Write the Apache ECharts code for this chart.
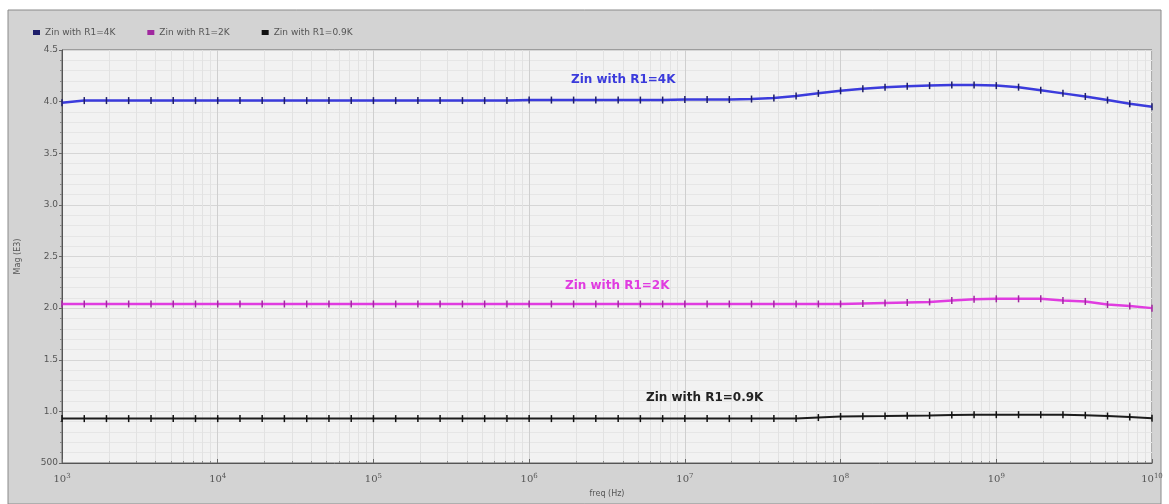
<!DOCTYPE html>
<html>
<head>
<meta charset="utf-8">
<title>Zin vs freq</title>
<script src="https://cdn.jsdelivr.net/npm/echarts@6/dist/echarts.min.js"></script>
<style>
  html, body { margin: 0; padding: 0; background: #ffffff; }
  #chart { width: 1169px; height: 504px; }
</style>
</head>
<body>
<div id="chart"></div>
<script>
  // sweep points (7 per decade, as in the simulator plot)
  var decades = [1e3, 1e4, 1e5, 1e6, 1e7, 1e8, 1e9];
  var mantissa = [1, 1.39, 1.93, 2.68, 3.73, 5.18, 7.2];
  var freq = [];
  decades.forEach(function (d) {
    mantissa.forEach(function (m) { freq.push(m * d); });
  });
  freq.push(1e10);

  var seriesNames = ['Zin with R1=4K', 'Zin with R1=2K', 'Zin with R1=0.9K'];

  // Mag (E3), one value per sweep point
  var zin4k = [
    3.99, 4.01, 4.01, 4.01, 4.01, 4.01, 4.01,
    4.01, 4.01, 4.01, 4.01, 4.01, 4.01, 4.01,
    4.01, 4.01, 4.01, 4.01, 4.01, 4.01, 4.01,
    4.015, 4.015, 4.015, 4.015, 4.015, 4.015, 4.015,
    4.02, 4.02, 4.02, 4.025, 4.035, 4.055, 4.08,
    4.105, 4.125, 4.14, 4.15, 4.155, 4.16, 4.16,
    4.155, 4.14, 4.11, 4.08, 4.05, 4.015, 3.98,
    3.95
  ];
  var zin2k = [
    2.04, 2.04, 2.04, 2.04, 2.04, 2.04, 2.04,
    2.04, 2.04, 2.04, 2.04, 2.04, 2.04, 2.04,
    2.04, 2.04, 2.04, 2.04, 2.04, 2.04, 2.04,
    2.04, 2.04, 2.04, 2.04, 2.04, 2.04, 2.04,
    2.04, 2.04, 2.04, 2.04, 2.04, 2.04, 2.04,
    2.04, 2.045, 2.05, 2.055, 2.06, 2.075, 2.085,
    2.09, 2.09, 2.09, 2.075, 2.065, 2.035, 2.02,
    2.0
  ];
  var zin09k = [
    0.93, 0.93, 0.93, 0.93, 0.93, 0.93, 0.93,
    0.93, 0.93, 0.93, 0.93, 0.93, 0.93, 0.93,
    0.93, 0.93, 0.93, 0.93, 0.93, 0.93, 0.93,
    0.93, 0.93, 0.93, 0.93, 0.93, 0.93, 0.93,
    0.93, 0.93, 0.93, 0.93, 0.93, 0.93, 0.94,
    0.95, 0.953, 0.955, 0.958, 0.96, 0.965, 0.968,
    0.968, 0.968, 0.968, 0.968, 0.962, 0.955, 0.945,
    0.933
  ];

  function pairs(vals) {
    return freq.map(function (f, i) { return [f, vals[i]]; });
  }

  var chart = echarts.init(document.getElementById('chart'));

  function makeSeries(name, vals, lineColor, markColor, width) {
    return {
      name: name,
      type: 'line',
      data: pairs(vals),
      showSymbol: true,
      symbol: 'rect',
      symbolSize: [1.5, 7],
      itemStyle: { color: markColor },
      lineStyle: { color: lineColor, width: width },
      animation: false
    };
  }

  chart.setOption({
    backgroundColor: '#ffffff',
    color: ['#3b3bdc', '#e03ce0', '#1c1c1c'],
    graphic: [
      {
        type: 'rect', z: -10,
        shape: { x: 8, y: 10, width: 1153, height: 494 },
        style: { fill: '#d3d3d3', stroke: '#8a8a8a', lineWidth: 1 }
      },
      {
        type: 'text', left: 571, top: 74, z: 10,
        style: { text: 'Zin with R1=4K', fill: '#3b3bdc', font: 'bold 12px "DejaVu Sans"' }
      },
      {
        type: 'text', left: 565, top: 280, z: 10,
        style: { text: 'Zin with R1=2K', fill: '#e03ce0', font: 'bold 12px "DejaVu Sans"' }
      },
      {
        type: 'text', left: 646, top: 392, z: 10,
        style: { text: 'Zin with R1=0.9K', fill: '#222222', font: 'bold 12px "DejaVu Sans"' }
      }
    ],
    legend: {
      left: 28,
      top: 23,
      itemWidth: 7,
      itemHeight: 5,
      itemGap: 32,
      icon: 'rect',
      textStyle: { fontSize: 9, color: '#555', fontFamily: 'DejaVu Sans' },
      data: seriesNames
    },
    grid: {
      left: 62, right: 17, top: 50, bottom: 41,
      show: true,
      backgroundColor: '#f2f2f2',
      borderColor: '#666',
      borderWidth: 1
    },
    xAxis: {
      type: 'log',
      logBase: 10,
      min: 1e3,
      max: 1e10,
      name: 'freq (Hz)',
      nameLocation: 'middle',
      nameGap: 27,
      nameTextStyle: { fontSize: 8, color: '#555', fontFamily: 'DejaVu Sans' },
      axisLine: { lineStyle: { color: '#555' } },
      axisTick: { show: true, inside: true, length: 4, lineStyle: { color: '#666' } },
      minorTick: { show: true, splitNumber: 9, length: 2, lineStyle: { color: '#888' } },
      splitLine: { show: true, lineStyle: { color: '#cfcfcf', width: 1 } },
      minorSplitLine: { show: true, lineStyle: { color: '#e2e2e2', width: 1 } },
      axisLabel: {
        margin: 10,
        color: '#555',
        formatter: function (v) {
          var e = Math.round(Math.log10(v));
          return '{b|10}{s|' + e + '}';
        },
        rich: {
          b: { fontSize: 10, color: '#555', fontFamily: 'DejaVu Serif' },
          s: { fontSize: 7, color: '#555', fontFamily: 'DejaVu Serif', verticalAlign: 'top', padding: [0, 0, 6, 0] }
        }
      }
    },
    yAxis: {
      type: 'value',
      min: 0.5,
      max: 4.5,
      interval: 0.5,
      name: 'Mag (E3)',
      nameLocation: 'middle',
      nameGap: 40,
      nameTextStyle: { fontSize: 8, color: '#555', fontFamily: 'DejaVu Sans' },
      axisLine: { show: true, lineStyle: { color: '#555' } },
      axisTick: { show: true, inside: false, length: 3, lineStyle: { color: '#666' } },
      minorTick: { show: true, splitNumber: 5, length: 2, lineStyle: { color: '#888' } },
      splitLine: { show: true, lineStyle: { color: '#d6d6d6' } },
      minorSplitLine: { show: true, lineStyle: { color: '#e6e6e6' } },
      axisLabel: {
        fontSize: 9,
        color: '#555',
        margin: 4,
        fontFamily: 'DejaVu Sans',
        formatter: function (v) {
          return v === 0.5 ? '500' : v.toFixed(1);
        }
      }
    },
    series: [
      makeSeries(seriesNames[0], zin4k, '#3b3bdc', '#1e1e6a', 2.5),
      makeSeries(seriesNames[1], zin2k, '#e03ce0', '#a0289f', 2.5),
      makeSeries(seriesNames[2], zin09k, '#1c1c1c', '#111111', 2)
    ]
  });
</script>
</body>
</html>
